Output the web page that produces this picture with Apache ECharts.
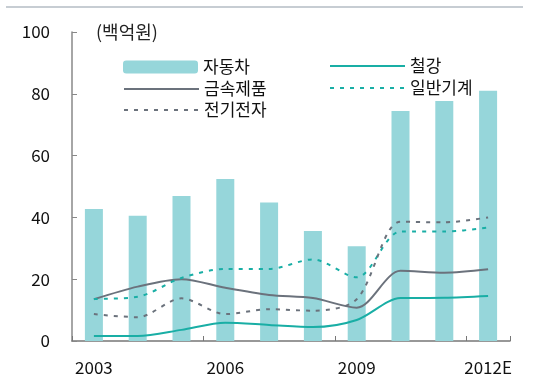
<!DOCTYPE html>
<html><head><meta charset="utf-8">
<script src="https://cdn.jsdelivr.net/npm/echarts@6/dist/echarts.min.js"></script>
<style>html,body{margin:0;padding:0;background:#fff}#c{width:550px;height:381px}</style>
</head><body><div id="c"></div>
<script>
const categories = ['2003','2004','2005','2006','2007','2008','2009','2010','2011','2012E'];
const auto  = [42.7, 40.5, 46.9, 52.4, 44.8, 35.6, 30.7, 74.4, 77.7, 81.0];
const steel = [1.6, 1.6, 3.6, 5.9, 5.2, 4.5, 6.8, 13.9, 14.0, 14.6];
const metal = [13.5, 17.6, 20.0, 17.2, 14.9, 13.9, 10.8, 22.7, 22.1, 23.2];
const mach  = [13.6, 14.3, 20.4, 23.3, 23.3, 26.4, 20.6, 35.4, 35.4, 36.7];
const elec  = [8.7, 7.7, 13.8, 8.7, 10.3, 9.8, 13.5, 38.6, 38.4, 40.0];
const yTicks = [0, 20, 40, 60, 80, 100];

const font = '"Noto Sans CJK KR", "Noto Sans", sans-serif';
const BAR = '#96d6da', TEAL = '#19aea5', GRAY = '#6b727c';
const chart = echarts.init(document.getElementById('c'));

function lg(name, left, center, h, isLine) {
  const o = {
    data: [name], left: left, top: center - 9, padding: 0,
    itemWidth: 75, itemHeight: h, itemGap: 0, selectedMode: false,
    textStyle: { fontFamily: font, fontSize: 17, color: '#111', lineHeight: 18 }
  };
  if (isLine) o.itemStyle = { opacity: 0 };
  return o;
}
function lineSeries(name, data, color, dashed) {
  return {
    name: name, type: 'line', data: data, smooth: 0.3, symbol: 'none', z: 3,
    lineStyle: { color: color, width: 2, type: dashed ? [4, 6] : 'solid' },
    itemStyle: { color: color }
  };
}

chart.setOption({
  animation: false,
  grid: { left: 72, right: 40, top: 32, bottom: 40 },
  legend: [
    lg('자동차', 123, 67, 13, false),
    lg('금속제품', 123, 89, 10, true),
    lg('전기전자', 123, 110, 10, true),
    lg('철강', 329, 66, 10, true),
    lg('일반기계', 329, 88, 10, true)
  ],
  graphic: [
    { type: 'line', shape: { x1: 6, y1: 7, x2: 523, y2: 7 }, style: { stroke: '#b4bcc4', lineWidth: 1.5 } },
    { type: 'text', left: 96, top: 23, style: { text: '(백억원)', font: '18px ' + font, fill: '#222' } }
  ],
  xAxis: {
    type: 'category', data: categories, boundaryGap: true,
    axisLine: { lineStyle: { color: '#777', width: 1.5 } },
    axisTick: { show: true, inside: true, length: 5, interval: 2, alignWithLabel: false, lineStyle: { color: '#777' } },
    axisLabel: { interval: 2, margin: 18, fontFamily: font, fontSize: 17, color: '#111' }
  },
  yAxis: {
    type: 'value', min: yTicks[0], max: yTicks[yTicks.length - 1], interval: 20,
    splitLine: { show: false },
    axisLine: { show: true, lineStyle: { color: '#888', width: 1.5 } },
    axisTick: { show: true, inside: true, length: 5, lineStyle: { color: '#888' } },
    axisLabel: { margin: 22, fontFamily: font, fontSize: 17, color: '#111' }
  },
  series: [
    { name: '자동차', type: 'bar', data: auto, barWidth: 18, itemStyle: { color: BAR }, z: 2 },
    lineSeries('철강', steel, TEAL, false),
    lineSeries('금속제품', metal, GRAY, false),
    lineSeries('일반기계', mach, TEAL, true),
    lineSeries('전기전자', elec, GRAY, true)
  ]
});
</script></body></html>
